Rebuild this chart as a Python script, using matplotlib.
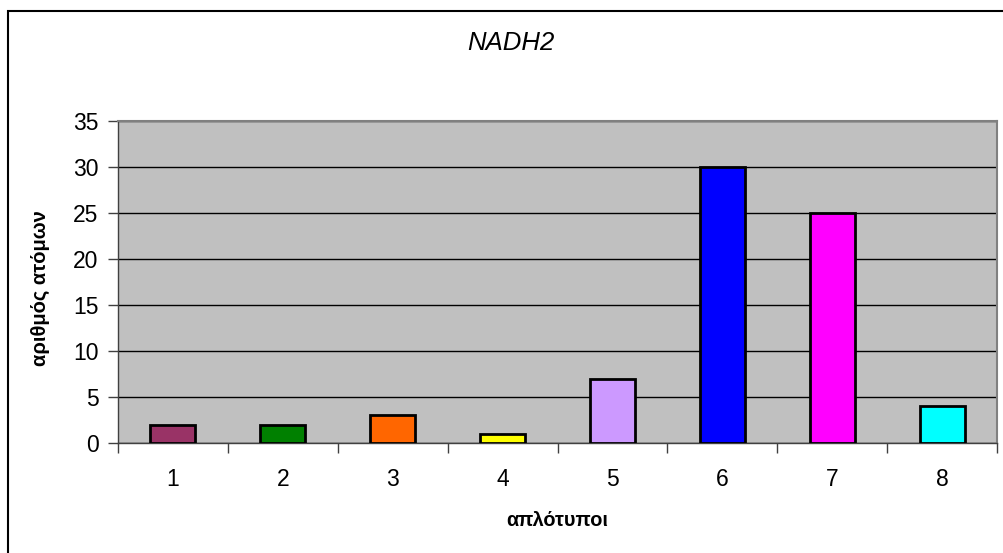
import matplotlib
matplotlib.use("Agg")
import matplotlib.pyplot as plt
from matplotlib.patches import Rectangle
from matplotlib.ticker import FixedLocator, NullFormatter

plt.rcParams['font.family'] = ['Liberation Sans', 'DejaVu Sans']

# data
haplotypes = [1, 2, 3, 4, 5, 6, 7, 8]
counts = [2, 2, 3, 1, 7, 30, 25, 4]
bar_colors = ['#993366', '#008000', '#FF6600', '#FFFF00',
              '#CC99FF', '#0000FF', '#FF00FF', '#00FFFF']
y_ticks = [0, 5, 10, 15, 20, 25, 30, 35]

W, H = 1004, 553
fig = plt.figure(figsize=(W / 100, H / 100), dpi=100)
fig.patch.set_facecolor('white')

# outer chart frame
fig.patches.append(Rectangle((8 / W, -0.01), 1.02 - 8 / W, 1.01 - 11 / H,
                             transform=fig.transFigure, fill=False,
                             edgecolor='black', linewidth=1.5))

ax = fig.add_axes([118 / W, 1 - 443 / H, (997 - 118) / W, (443 - 121) / H])
ax.set_facecolor('#C0C0C0')

ax.bar(haplotypes, counts, width=0.41, color=bar_colors,
       edgecolor='black', linewidth=2, zorder=3)

ax.set_xlim(0.5, 8.5)
ax.set_ylim(0, 35)
ax.set_yticks(y_ticks)
ax.yaxis.grid(True, color='black', linewidth=1)
ax.set_axisbelow(True)

# x ticks at category boundaries, labels at centres
ax.xaxis.set_major_locator(FixedLocator([i + 0.5 for i in range(0, 9)]))
ax.xaxis.set_major_formatter(NullFormatter())
ax.xaxis.set_minor_locator(FixedLocator(haplotypes))
ax.set_xticklabels([str(h) for h in haplotypes], minor=True)
ax.tick_params(axis='x', which='minor', length=0, pad=18, labelsize=16.5)
ax.tick_params(axis='x', which='major', length=7, width=1, color='#404040')
ax.tick_params(axis='y', length=7, width=1, color='#404040', labelsize=16.5, pad=7)

for s in ['top', 'right']:
    ax.spines[s].set_color('#808080')
    ax.spines[s].set_linewidth(1.5)
for s in ['left', 'bottom']:
    ax.spines[s].set_color('#404040')
    ax.spines[s].set_linewidth(1)

ax.set_ylabel('αριθμός ατόμων', fontsize=14.5, fontweight='bold', va='center')
ax.yaxis.set_label_coords((40 - 118) / 879, 0.48)
ax.set_xlabel('απλότυποι', fontsize=14.3, fontweight='bold', va='center')
ax.xaxis.set_label_coords(0.5, (443 - 520) / 322)
fig.text(511 / W, 1 - 43 / H, 'NADH2', fontsize=18.5, style='italic',
         ha='center', va='center')

fig.savefig('out.png', dpi=100)
